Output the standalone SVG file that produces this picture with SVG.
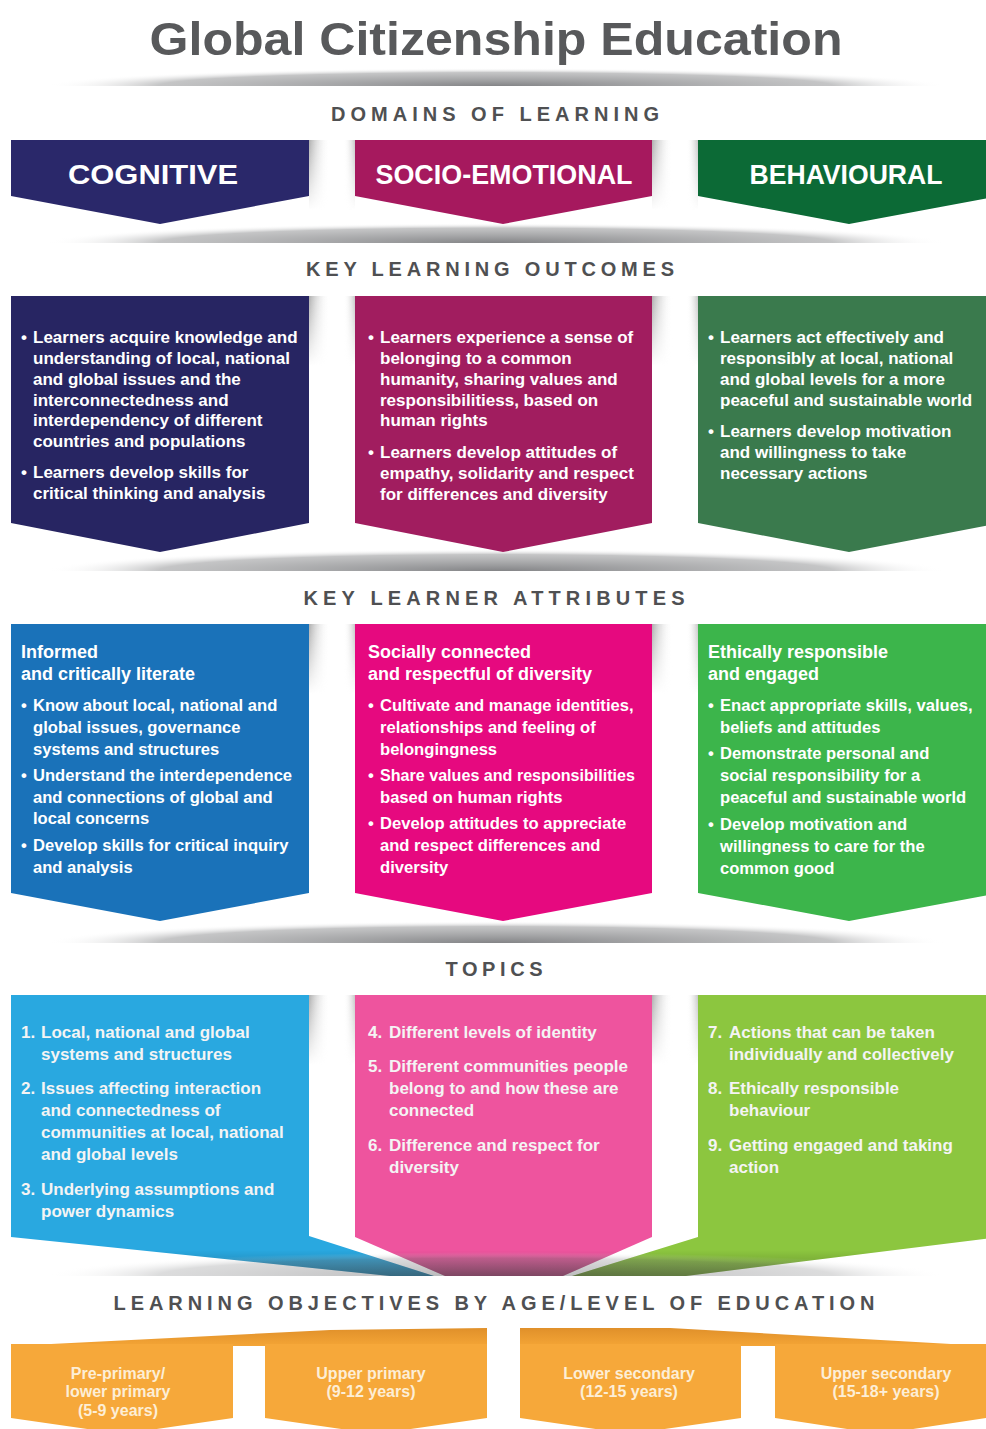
<svg xmlns="http://www.w3.org/2000/svg" width="986" height="1429" viewBox="0 0 986 1429">
<style>
.title{font-family:"Liberation Sans",Arial,sans-serif;font-weight:700;font-size:46px;fill:#58595b}
.sec{font-family:"Liberation Sans",Arial,sans-serif;font-weight:700;font-size:20px;fill:#4f5052}
.dom{font-family:"Liberation Sans",Arial,sans-serif;font-weight:700;font-size:28px;fill:#ffffff}
.b{font-family:"Liberation Sans",Arial,sans-serif;font-weight:700;font-size:17px;fill:#ffffff}
.a{font-family:"Liberation Sans",Arial,sans-serif;font-weight:700;font-size:16.6px;fill:#ffffff}
.tp{font-family:"Liberation Sans",Arial,sans-serif;font-weight:700;font-size:17px;fill:#f4f4f4}
.h{font-family:"Liberation Sans",Arial,sans-serif;font-weight:700;font-size:18px;fill:#ffffff}
.age{font-family:"Liberation Sans",Arial,sans-serif;font-weight:700;font-size:16px;fill:#fdeed6;text-anchor:middle}
.mid{text-anchor:middle}
</style>
<defs>
<radialGradient id="sh" cx="0.5" cy="1" r="1" gradientTransform="translate(0.5 1) scale(0.5 1) translate(-0.5 -1)">
<stop offset="0" stop-color="#6d6e71" stop-opacity="0.85"/>
<stop offset="0.75" stop-color="#8a8b8d" stop-opacity="0.5"/>
<stop offset="1" stop-color="#ffffff" stop-opacity="0"/>
</radialGradient>
<linearGradient id="gapH" x1="0" y1="0" x2="1" y2="0">
<stop offset="0" stop-color="#8c8c8c" stop-opacity="0.7"/>
<stop offset="0.45" stop-color="#ffffff" stop-opacity="0"/>
<stop offset="0.75" stop-color="#ffffff" stop-opacity="0"/>
<stop offset="1" stop-color="#8c8c8c" stop-opacity="0.5"/>
</linearGradient>
<linearGradient id="vfade" x1="0" y1="0" x2="0" y2="1">
<stop offset="0" stop-color="#fff"/>
<stop offset="1" stop-color="#000"/>
</linearGradient>
<mask id="fadeDown" maskContentUnits="objectBoundingBox"><rect x="0" y="0" width="1" height="1" fill="url(#vfade)"/></mask>
<linearGradient id="darkBot" x1="0" y1="0" x2="0" y2="1">
<stop offset="0" stop-color="#000" stop-opacity="0"/>
<stop offset="1" stop-color="#000" stop-opacity="0.28"/>
</linearGradient>
<linearGradient id="fanShade" x1="0" y1="0" x2="0" y2="1">
<stop offset="0" stop-color="#e0902a"/>
<stop offset="1" stop-color="#f4a536"/>
</linearGradient>
<clipPath id="topicClip">
<path d="M11,995 H309 V1236 L434,1276 L390,1276 L11,1237 Z"/>
<path d="M355,995 H652 V1237 L563,1276 L445,1276 L355,1237 Z"/>
<path d="M698,995 H1000 V1237 L686,1276 L572,1276 L698,1237 Z"/>
</clipPath>
</defs>
<rect x="0" y="0" width="986" height="1429" fill="#ffffff"/>

<g id="title">
<text class="title" x="496" y="55" text-anchor="middle" textLength="693" lengthAdjust="spacingAndGlyphs">Global Citizenship Education</text>
</g>

<g id="separators">
<path d="M46,86 A450,18 0 0 1 946,86 Z" fill="url(#sh)"/>
<path d="M46,243 A450,20 0 0 1 946,243 Z" fill="url(#sh)"/>
<path d="M46,571 A450,22 0 0 1 946,571 Z" fill="url(#sh)"/>
<path d="M46,943 A450,22 0 0 1 946,943 Z" fill="url(#sh)"/>
</g>

<g id="gap-shading">
<rect x="309" y="140" width="46" height="70" fill="url(#gapH)" mask="url(#fadeDown)"/>
<rect x="652" y="140" width="46" height="70" fill="url(#gapH)" mask="url(#fadeDown)"/>
<rect x="309" y="296" width="46" height="70" fill="url(#gapH)" mask="url(#fadeDown)"/>
<rect x="652" y="296" width="46" height="70" fill="url(#gapH)" mask="url(#fadeDown)"/>
<rect x="309" y="624" width="46" height="70" fill="url(#gapH)" mask="url(#fadeDown)"/>
<rect x="652" y="624" width="46" height="70" fill="url(#gapH)" mask="url(#fadeDown)"/>
<rect x="309" y="995" width="46" height="70" fill="url(#gapH)" mask="url(#fadeDown)"/>
<rect x="652" y="995" width="46" height="70" fill="url(#gapH)" mask="url(#fadeDown)"/>
</g>

<g id="section-labels">
<text class="sec mid" x="495" y="121" textLength="328" lengthAdjust="spacing">DOMAINS OF LEARNING</text>
<text class="sec mid" x="490" y="276" textLength="368" lengthAdjust="spacing">KEY LEARNING OUTCOMES</text>
<text class="sec mid" x="494" y="605" textLength="381" lengthAdjust="spacing">KEY LEARNER ATTRIBUTES</text>
<text class="sec mid" x="494" y="976" textLength="97" lengthAdjust="spacing">TOPICS</text>
<text class="sec mid" x="494" y="1310" textLength="761" lengthAdjust="spacing">LEARNING OBJECTIVES BY AGE/LEVEL OF EDUCATION</text>
</g>

<g id="domain-cognitive">
<path d="M11,140 H309 V196 L160,224 L11,196 Z" fill="#2a286a"/>
<text class="dom mid" x="153" y="184" textLength="170" lengthAdjust="spacingAndGlyphs">COGNITIVE</text>
</g>
<g id="domain-socio-emotional">
<path d="M355,140 H652 V196 L503,224 L355,196 Z" fill="#a6195e"/>
<text class="dom mid" x="504" y="184" textLength="257" lengthAdjust="spacingAndGlyphs">SOCIO-EMOTIONAL</text>
</g>
<g id="domain-behavioural">
<path d="M698,140 H1000 V196 L849,224 L698,196 Z" fill="#0c6a36"/>
<text class="dom mid" x="846" y="184" textLength="193" lengthAdjust="spacingAndGlyphs">BEHAVIOURAL</text>
</g>

<g id="outcomes-cognitive">
<path d="M11,296 H309 V523 L160,552 L11,523 Z" fill="#272562"/>
<text class="b" x="21" y="343">•</text>
<text class="b" x="33" y="343">Learners acquire knowledge and</text>
<text class="b" x="33" y="364">understanding of local,  national</text>
<text class="b" x="33" y="385">and global issues and the</text>
<text class="b" x="33" y="406">interconnectedness and</text>
<text class="b" x="33" y="426">interdependency of different</text>
<text class="b" x="33" y="447">countries and populations</text>
<text class="b" x="21" y="478">•</text>
<text class="b" x="33" y="478">Learners develop skills for</text>
<text class="b" x="33" y="499">critical thinking and analysis</text>
</g>
<g id="outcomes-socio-emotional">
<path d="M355,296 H652 V523 L503,552 L355,523 Z" fill="#a11d5f"/>
<text class="b" x="368" y="343">•</text>
<text class="b" x="380" y="343">Learners experience a sense of</text>
<text class="b" x="380" y="364">belonging to a common</text>
<text class="b" x="380" y="385">humanity, sharing values and</text>
<text class="b" x="380" y="406">responsibilitiess, based on</text>
<text class="b" x="380" y="426">human rights</text>
<text class="b" x="368" y="458">•</text>
<text class="b" x="380" y="458">Learners develop attitudes of</text>
<text class="b" x="380" y="479">empathy, solidarity and respect</text>
<text class="b" x="380" y="500">for differences and diversity</text>
</g>
<g id="outcomes-behavioural">
<path d="M698,296 H1000 V523 L849,552 L698,523 Z" fill="#3a7a4d"/>
<text class="b" x="708" y="343">•</text>
<text class="b" x="720" y="343">Learners act effectively and</text>
<text class="b" x="720" y="364">responsibly at local, national</text>
<text class="b" x="720" y="385">and global levels for a more</text>
<text class="b" x="720" y="406">peaceful and sustainable world</text>
<text class="b" x="708" y="437">•</text>
<text class="b" x="720" y="437">Learners develop motivation</text>
<text class="b" x="720" y="458">and willingness to take</text>
<text class="b" x="720" y="479">necessary actions</text>
</g>

<g id="attributes-cognitive">
<path d="M11,624 H309 V893 L160,921 L11,893 Z" fill="#1a72b9"/>
<text class="h" x="21" y="658">Informed</text>
<text class="h" x="21" y="680">and critically literate</text>
<text class="a" x="21" y="711">•</text>
<text class="a" x="33" y="711">Know about local, national and</text>
<text class="a" x="33" y="733">global issues, governance</text>
<text class="a" x="33" y="755">systems and structures</text>
<text class="a" x="21" y="781">•</text>
<text class="a" x="33" y="781">Understand the interdependence</text>
<text class="a" x="33" y="803">and connections of global and</text>
<text class="a" x="33" y="824">local concerns</text>
<text class="a" x="21" y="851">•</text>
<text class="a" x="33" y="851">Develop skills for critical inquiry</text>
<text class="a" x="33" y="873">and analysis</text>
</g>
<g id="attributes-socio-emotional">
<path d="M355,624 H652 V893 L503,921 L355,893 Z" fill="#e6097f"/>
<text class="h" x="368" y="658">Socially connected</text>
<text class="h" x="368" y="680">and respectful of diversity</text>
<text class="a" x="368" y="711">•</text>
<text class="a" x="380" y="711">Cultivate and manage identities,</text>
<text class="a" x="380" y="733">relationships and feeling of</text>
<text class="a" x="380" y="755">belongingness</text>
<text class="a" x="368" y="781">•</text>
<text class="a" x="380" y="781" textLength="255" lengthAdjust="spacingAndGlyphs">Share values and responsibilities</text>
<text class="a" x="380" y="803">based on human rights</text>
<text class="a" x="368" y="829">•</text>
<text class="a" x="380" y="829">Develop attitudes to appreciate</text>
<text class="a" x="380" y="851">and respect differences and</text>
<text class="a" x="380" y="873">diversity</text>
</g>
<g id="attributes-behavioural">
<path d="M698,624 H1000 V893 L849,921 L698,893 Z" fill="#3cb54b"/>
<text class="h" x="708" y="658">Ethically responsible</text>
<text class="h" x="708" y="680">and engaged</text>
<text class="a" x="708" y="711">•</text>
<text class="a" x="720" y="711">Enact appropriate skills, values,</text>
<text class="a" x="720" y="733">beliefs and attitudes</text>
<text class="a" x="708" y="759">•</text>
<text class="a" x="720" y="759">Demonstrate personal and</text>
<text class="a" x="720" y="781">social responsibility for a</text>
<text class="a" x="720" y="803">peaceful and sustainable world</text>
<text class="a" x="708" y="830">•</text>
<text class="a" x="720" y="830">Develop motivation and</text>
<text class="a" x="720" y="852">willingness to care for the</text>
<text class="a" x="720" y="874">common good</text>
</g>

<g id="topics-cognitive">
<path d="M11,995 H309 V1236 L434,1276 L390,1276 L11,1237 Z" fill="#29a8e0"/>
<text class="tp" x="21" y="1038">1.</text>
<text class="tp" x="41" y="1038">Local, national and global</text>
<text class="tp" x="41" y="1060">systems and structures</text>
<text class="tp" x="21" y="1094">2.</text>
<text class="tp" x="41" y="1094">Issues affecting interaction</text>
<text class="tp" x="41" y="1116">and connectedness of</text>
<text class="tp" x="41" y="1138">communities at local, national</text>
<text class="tp" x="41" y="1160">and global levels</text>
<text class="tp" x="21" y="1195">3.</text>
<text class="tp" x="41" y="1195">Underlying assumptions and</text>
<text class="tp" x="41" y="1217">power dynamics</text>
</g>
<g id="topics-socio-emotional">
<path d="M355,995 H652 V1237 L563,1276 L445,1276 L355,1237 Z" fill="#ee549e"/>
<text class="tp" x="368" y="1038">4.</text>
<text class="tp" x="389" y="1038">Different levels of  identity</text>
<text class="tp" x="368" y="1072">5.</text>
<text class="tp" x="389" y="1072">Different communities people</text>
<text class="tp" x="389" y="1094">belong to and how these are</text>
<text class="tp" x="389" y="1116">connected</text>
<text class="tp" x="368" y="1151">6.</text>
<text class="tp" x="389" y="1151">Difference and respect for</text>
<text class="tp" x="389" y="1173">diversity</text>
</g>
<g id="topics-behavioural">
<path d="M698,995 H1000 V1237 L686,1276 L572,1276 L698,1237 Z" fill="#8cc63f"/>
<text class="tp" x="708" y="1038">7.</text>
<text class="tp" x="729" y="1038">Actions that can be taken</text>
<text class="tp" x="729" y="1060">individually and collectively</text>
<text class="tp" x="708" y="1094">8.</text>
<text class="tp" x="729" y="1094">Ethically responsible</text>
<text class="tp" x="729" y="1116">behaviour</text>
<text class="tp" x="708" y="1151">9.</text>
<text class="tp" x="729" y="1151">Getting engaged and taking</text>
<text class="tp" x="729" y="1173">action</text>
</g>

<g id="topics-shadow">
<path d="M46,1276 A450,24 0 0 1 946,1276 Z" fill="url(#sh)" opacity="0.6"/>
<rect x="0" y="1250" width="986" height="26" fill="url(#darkBot)" clip-path="url(#topicClip)"/>
</g>

<g id="age-fan">
<path d="M11,1346 L330,1330 L487,1328 L487,1346 Z" fill="url(#fanShade)"/>
<path d="M520,1328 L670,1328 L986,1346 L520,1346 Z" fill="url(#fanShade)"/>
</g>
<g id="age-pre-primary">
<path d="M11,1344 H233 V1418 L122,1434 L11,1418 Z" fill="#f6a83a"/>
<text class="age" x="118" y="1379">Pre-primary/</text>
<text class="age" x="118" y="1397">lower primary</text>
<text class="age" x="118" y="1416">(5-9 years)</text>
</g>
<g id="age-upper-primary">
<path d="M265,1344 H487 V1418 L376,1434 L265,1418 Z" fill="#f6a83a"/>
<text class="age" x="371" y="1379">Upper primary</text>
<text class="age" x="371" y="1397">(9-12 years)</text>
</g>
<g id="age-lower-secondary">
<path d="M520,1344 H741 V1418 L630,1434 L520,1418 Z" fill="#f6a83a"/>
<text class="age" x="629" y="1379">Lower secondary</text>
<text class="age" x="629" y="1397">(12-15 years)</text>
</g>
<g id="age-upper-secondary">
<path d="M775,1344 H986 V1418 L880,1434 L775,1418 Z" fill="#f6a83a"/>
<text class="age" x="886" y="1379">Upper secondary</text>
<text class="age" x="886" y="1397">(15-18+ years)</text>
</g>
</svg>
